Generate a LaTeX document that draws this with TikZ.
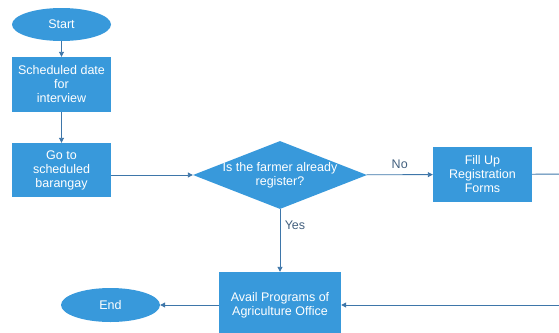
\documentclass[tikz,border=0pt]{standalone}
\usepackage{fontspec}
\setmainfont{Liberation Sans}
\usepackage{tikz}
\usetikzlibrary{shapes.geometric,arrows.meta}
\usepackage{xcolor}
\definecolor{flowfill}{HTML}{3899DB}
\definecolor{flowline}{HTML}{3E76A9}
\definecolor{flowtext}{HTML}{44617F}

\begin{document}
\begin{tikzpicture}[x=1pt,y=-1pt,
		every node/.style={font=\fontsize{12.5}{14}\selectfont},
		block/.style={rectangle,fill=flowfill,text=white,align=center,inner sep=0pt},
		terminal/.style={ellipse,fill=flowfill,text=white,inner sep=0pt},
		decision/.style={diamond,fill=flowfill,inner sep=0pt,minimum width=174pt,minimum height=68pt},
		flow/.style={draw=flowline,line width=0.9pt,-{Triangle[length=5pt,width=5pt]}},
		plain/.style={draw=flowline,line width=0.9pt}]
			\clip (0,0) rectangle (559,332);
			\coordinate (s) at (61.5,24.5);
			\coordinate (d) at (61.5,84.5);
			\coordinate (g) at (61.5,170);
			\coordinate (q) at (280,175);
			\coordinate (f) at (482.5,174.5);
			\coordinate (a) at (280,305);
			\coordinate (e) at (110.5,305);
			\node[terminal,minimum width=99pt,minimum height=33pt] (start) at (s) {Start};
			\node[block,minimum width=99pt,minimum height=55pt] (sched) at (d) {Scheduled date\\for\\interview};
			\node[block,minimum width=99pt,minimum height=54pt] (goto) at (g) {Go to\\scheduled\\barangay};
			\node[decision,label={[text=white,align=center]center:Is the farmer already\\register?}] (isreg) at (q) {};
			\node[block,minimum width=99pt,minimum height=55pt] (fillup) at (f) {Fill Up\\Registration\\Forms};
			\node[block,minimum width=122pt,minimum height=66pt] (avail) at (a) {Avail Programs of\\Agriculture Office};
			\node[terminal,minimum width=99pt,minimum height=34pt] (finish) at (e) {End};
			\coordinate (out) at (570,174);
			\coordinate (back) at (570,305);
			\draw[flow] (start) -- (sched);
			\draw[flow] (sched) -- (goto);
			\draw[flow] (goto.east |- isreg.west) -- (isreg.west);
			\draw[flow] (isreg) -- node[above=2pt,text=flowtext] {No} (fillup);
			\draw[flow] (isreg) -- node[pos=0.25,right=1pt,text=flowtext] {Yes} (avail);
			\draw[plain] (fillup) -- (out);
			\draw[flow] (back) -- (avail);
			\draw[flow] (avail) -- (finish);
		\end{tikzpicture}
\end{document}
